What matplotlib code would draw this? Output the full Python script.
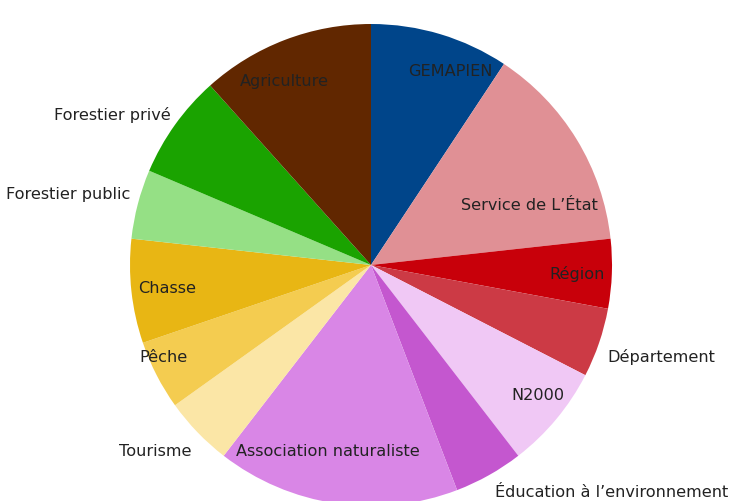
import numpy as np
import matplotlib.pyplot as plt

labels = ['GEMAPIEN', "Service de L\u2019\u00c9tat", 'R\u00e9gion', 'D\u00e9partement', 'N2000',
          '\u00c9ducation \u00e0 l\u2019environnement', 'Association naturaliste', 'Tourisme',
          'P\u00eache', 'Chasse', 'Forestier public', 'Forestier priv\u00e9', 'Agriculture']
values = [4, 6, 2, 2, 3, 2, 7, 2, 2, 3, 2, 3, 5]
colors = ['#00458a', '#e09095', '#c8000a', '#cc3a45', '#f0c8f5', '#c457cf', '#d986e6',
          '#fbe6a6', '#f4cc50', '#e8b614', '#95e085', '#1aa300', '#612700']

# label placement: radius factor, fraction across the wedge, inside or outside
label_r = [0.87, 0.705, 0.855, 1.05, 0.875, 1.07, 0.79, 1.07, 0.94, 0.85, 1.04, 1.04, 0.845]
label_f = [0.66, 0.71, 0.5, 0.63, 0.42, 0.54, 0.58, 0.38, 0.71, 0.5, 0.61, 0.56, 0.40]
inside = [True, True, True, False, True, False, True, False, True, True, False, False, True]

fig = plt.figure(figsize=(7.31, 5.02), dpi=100)
ax = fig.add_axes([0, 0, 1, 1])

wedges, _ = ax.pie(values, colors=colors, startangle=90, counterclock=False, radius=1,
                   wedgeprops=dict(linewidth=0))

for w, lab, r, f, ins in zip(wedges, labels, label_r, label_f, inside):
    # clockwise: go from theta2 towards theta1
    a = np.deg2rad(w.theta2 - f * (w.theta2 - w.theta1))
    x, y = r * np.cos(a), r * np.sin(a)
    if ins:
        ha = 'center'
    else:
        ha = 'left' if x > 0 else 'right'
    ax.text(x, y, lab, ha=ha, va='center', fontsize=11.6, color='#222222',
            family='DejaVu Sans')

# centre at (371, 266) px, radius 241 px
s = 241.0
ax.set_xlim(-371 / s, (731 - 371) / s)
ax.set_ylim(-(502 - 266) / s, 266 / s)
ax.set_aspect('auto')
ax.axis('off')

fig.savefig('out.png', dpi=100)
